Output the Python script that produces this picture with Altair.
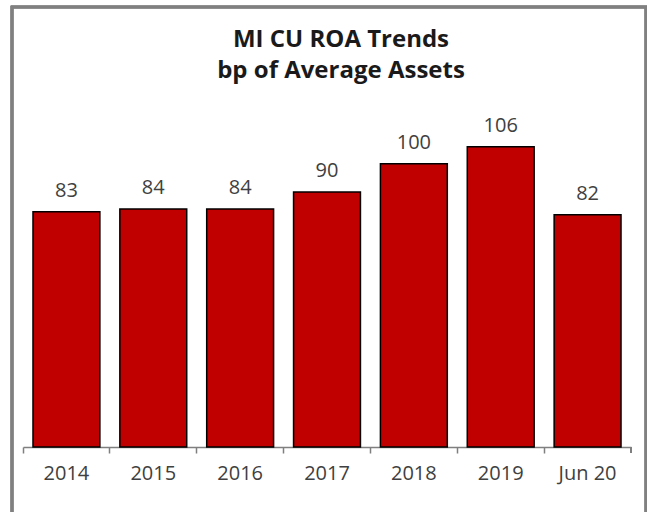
import altair as alt
import pandas as pd

categories = ["2014", "2015", "2016", "2017", "2018", "2019", "Jun 20"]
values = [83, 84, 84, 90, 100, 106, 82]
title_lines = ["MI CU ROA Trends", "bp of Average Assets"]

df = pd.DataFrame({"period": categories, "roa": values})

W, H = 608, 340
FONT = "Open Sans"

x_enc = alt.X(
    "period:N",
    sort=categories,
    scale=alt.Scale(paddingInner=0, paddingOuter=0),
    axis=alt.Axis(
        title=None,
        labelAngle=0,
        bandPosition=0,
        labelFont=FONT,
        labelFontSize=20,
        labelColor="#404040",
        labelPadding=10,
        tickSize=6,
        tickColor="#7f7f7f",
        domainColor="#7f7f7f",
        domainWidth=1.5,
        tickWidth=1.5,
        grid=False,
    ),
)
y_enc = alt.Y("roa:Q", scale=alt.Scale(domain=[0, 120]), axis=None)

base = alt.Chart(df)

bars = base.mark_bar(
    color="#C00000", stroke="#000000", strokeWidth=1.5,
    width=alt.RelativeBandSize(0.77),
).encode(x=x_enc, y=y_enc)

labels = base.mark_text(
    baseline="alphabetic", dy=-15, font=FONT, fontSize=20, color="#404040"
).encode(x=alt.X("period:N", sort=categories, bandPosition=0.5), y=y_enc, text="roa:Q")

end_tick = alt.Chart(df).mark_rule(color="#7f7f7f", strokeWidth=1.5).encode(
    x=alt.value(W), y=alt.value(H), y2=alt.value(H + 6)
)

border = alt.Chart(df).mark_rect(
    fill=None, stroke="#808080", strokeWidth=2.5
).encode(
    x=alt.value(-11), x2=alt.value(623), y=alt.value(-100), y2=alt.value(H + 80)
)

title_df = pd.DataFrame({"line": title_lines})
title1 = alt.Chart(title_df).transform_filter(
    alt.datum.line == title_lines[0]
).mark_text(
    font=FONT, fontSize=24, fontWeight="bold", color="#1a1a1a", baseline="alphabetic"
).encode(text="line:N", x=alt.value(318), y=alt.value(-60))
title2 = alt.Chart(title_df).transform_filter(
    alt.datum.line == title_lines[1]
).mark_text(
    font=FONT, fontSize=24, fontWeight="bold", color="#1a1a1a", baseline="alphabetic"
).encode(text="line:N", x=alt.value(318), y=alt.value(-29))

chart = alt.layer(border, bars, labels, end_tick, title1, title2).properties(
    width=W,
    height=H,
    padding={"left": 23, "top": 107, "right": 16, "bottom": 65},
    autosize=alt.AutoSizeParams(type="none"),
).configure(
    background="white",
    view=alt.ViewConfig(stroke="transparent", strokeWidth=0),
)

chart.save("out.html", embed_options={"renderer": "svg", "actions": False})
